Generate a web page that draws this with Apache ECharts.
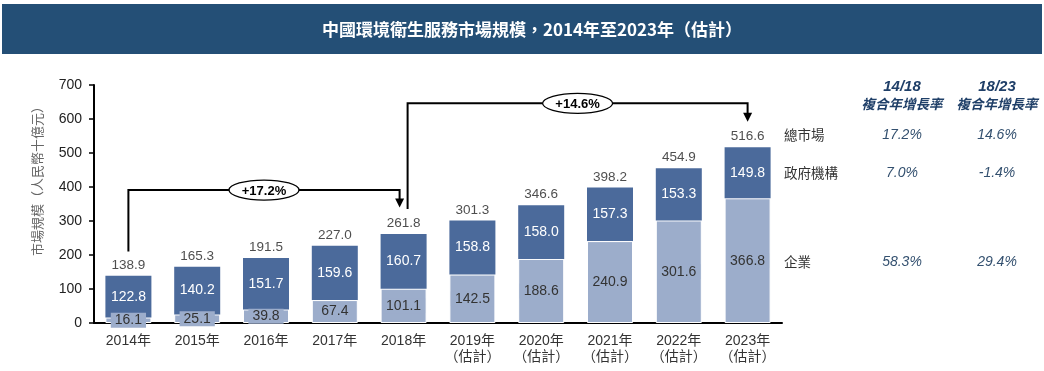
<!DOCTYPE html>
<html><head><meta charset="utf-8">
<script src="https://cdn.jsdelivr.net/npm/echarts@6/dist/echarts.min.js"></script>
<style>html,body{margin:0;padding:0;background:#fff}#c{width:1044px;height:371px}</style>
</head><body><div id="c"></div>
<script>
const title = '中國環境衛生服務市場規模，2014年至2023年（估計）';
const yAxisName = '市場規模（人民幣十億元）';
const categories = ['2014年','2015年','2016年','2017年','2018年','2019年\n（估計）','2020年\n（估計）','2021年\n（估計）','2022年\n（估計）','2023年\n（估計）'];
const government = [122.8,140.2,151.7,159.6,160.7,158.8,158.0,157.3,153.3,149.8];
const enterprise = [16.1,25.1,39.8,67.4,101.1,142.5,188.6,240.9,301.6,366.8];
const totals = [138.9,165.3,191.5,227.0,261.8,301.3,346.6,398.2,454.9,516.6];
const yMin = 0, yMax = 700, yInterval = 100;
const cagrPeriods = ['14/18','18/23'];
const cagrHeader = '複合年增長率';
const rowLabels = ['總市場','政府機構','企業'];
const cagr1418 = ['17.2%','7.0%','58.3%'];
const cagr1823 = ['14.6%','-1.4%','29.4%'];
const bracketLabels = ['+17.2%','+14.6%'];

const NUM = '"Liberation Sans", Arial, "Noto Sans CJK TC", sans-serif';
const CJK = '"Noto Sans CJK TC", "Liberation Sans", sans-serif';
const DARK = '#4b6a9b', LIGHT = '#9cadcb', NAVY = '#244f76';

const chart = echarts.init(document.getElementById('c'), null, {renderer:'canvas'});
chart.setOption({
  animation:false,
  backgroundColor:'#fff',
  grid:{left:94, right:262, top:85, bottom:48, containLabel:false},
  xAxis:{type:'category', data:categories,
    axisLine:{lineStyle:{color:'#000', width:2}}, axisTick:{show:false},
    axisLabel:{interval:0, hideOverlap:false, color:'#333', fontSize:14, fontFamily:NUM, margin:10, lineHeight:16}},
  yAxis:{type:'value', min:yMin, max:yMax, interval:yInterval,
    axisLine:{show:true, lineStyle:{color:'#000', width:2}},
    axisTick:{show:true, length:5, lineStyle:{color:'#000', width:1.5}},
    splitLine:{show:false},
    axisLabel:{color:'#222', fontSize:14, fontFamily:NUM, margin:12}},
  series:[
    {name:'企業', type:'bar', stack:'a', data:enterprise, barWidth:46,
      itemStyle:{color:LIGHT, borderColor:'#fff', borderWidth:1},
      label:{show:true, position:'inside', color:'#333', fontSize:14, fontFamily:NUM,
        backgroundColor:LIGHT, padding:[1,4,0,4],
        formatter:p=>p.value.toFixed(1)}},
    {name:'政府機構', type:'bar', stack:'a', data:government, barWidth:46,
      itemStyle:{color:DARK},
      label:{show:true, position:'inside', color:'#fff', fontSize:14, fontFamily:NUM,
        formatter:p=>p.value.toFixed(1)}},
    {name:'總市場', type:'scatter', data:totals, symbolSize:0, silent:true,
      label:{show:true, position:'top', distance:4, color:'#222', fontSize:13.5, fontFamily:NUM,
        formatter:p=>p.value.toFixed(1)}}
  ]
});

function px(i, v){ return chart.convertToPixel({gridIndex:0}, [i, v]); }
const g = [];
g.push({type:'rect', shape:{x:2, y:4, width:1040, height:50}, style:{fill:NAVY}, silent:true});
g.push({type:'text', x:532, y:30, style:{text:title, align:'center', verticalAlign:'middle',
  fill:'#fff', fontSize:17, fontWeight:'bold', fontFamily:CJK}});
g.push({type:'text', x:37, y:178, rotation:Math.PI/2, style:{text:yAxisName, align:'center',
  verticalAlign:'middle', fill:'#666', fontSize:13, fontFamily:CJK}});

function bracket(i0, i1, yBottom, yTop, yTip, dx0, dx1, label){
  const p0 = px(i0, yBottom), pT = px(i0, yTop), pTip = px(i1, yTip);
  const xa = p0[0] + dx0, xb = pTip[0] + dx1, yt = pT[1], yb = p0[1], ytip = pTip[1];
  g.push({type:'polyline', shape:{points:[[xa,yb],[xa,yt],[xb,yt],[xb,ytip-8]]},
    style:{stroke:'#000', lineWidth:2, fill:null}});
  g.push({type:'polygon', shape:{points:[[xb-4.5,ytip-9],[xb+4.5,ytip-9],[xb,ytip]]},
    style:{fill:'#000'}});
  const cx = (xa+xb)/2;
  g.push({type:'ellipse', shape:{cx:cx, cy:yt, rx:35, ry:10}, style:{fill:'#fff', stroke:'#000', lineWidth:1.3}});
  g.push({type:'text', x:cx, y:yt+1, style:{text:label, align:'center', verticalAlign:'middle',
    fill:'#000', fontSize:13, fontWeight:'bold', fontFamily:NUM}});
}
bracket(0, 4, 210, 391, 340, 0, -4, bracketLabels[0]);
bracket(4, 9, 335, 646, 592, 4, 0, bracketLabels[1]);

const colX = [902, 997];
cagrPeriods.forEach((p, k) => {
  g.push({type:'text', x:colX[k], y:87, style:{text:p, align:'center', verticalAlign:'middle',
    fill:'#1f3f68', fontSize:15, fontWeight:'bold', fontStyle:'italic', fontFamily:NUM}});
  g.push({type:'text', x:colX[k], y:104, style:{text:cagrHeader, align:'center', verticalAlign:'middle',
    fill:'#1f3f68', fontSize:13.5, fontWeight:'bold', fontStyle:'italic', fontFamily:CJK}});
});
const last = totals.length - 1;
const rowY = [
  px(last, totals[last])[1] - 12,
  px(last, enterprise[last] + government[last]/2)[1],
  px(last, enterprise[last]/2)[1] + 1
];
rowLabels.forEach((r, k) => {
  g.push({type:'text', x:784, y:rowY[k], style:{text:r, align:'left', verticalAlign:'middle',
    fill:'#333', fontSize:13.5, fontFamily:CJK}});
  g.push({type:'text', x:colX[0], y:rowY[k], style:{text:cagr1418[k], align:'center', verticalAlign:'middle',
    fill:'#33506f', fontSize:14, fontStyle:'italic', fontFamily:NUM}});
  g.push({type:'text', x:colX[1], y:rowY[k], style:{text:cagr1823[k], align:'center', verticalAlign:'middle',
    fill:'#33506f', fontSize:14, fontStyle:'italic', fontFamily:NUM}});
});
chart.setOption({graphic:{elements:g}});
</script></body></html>
